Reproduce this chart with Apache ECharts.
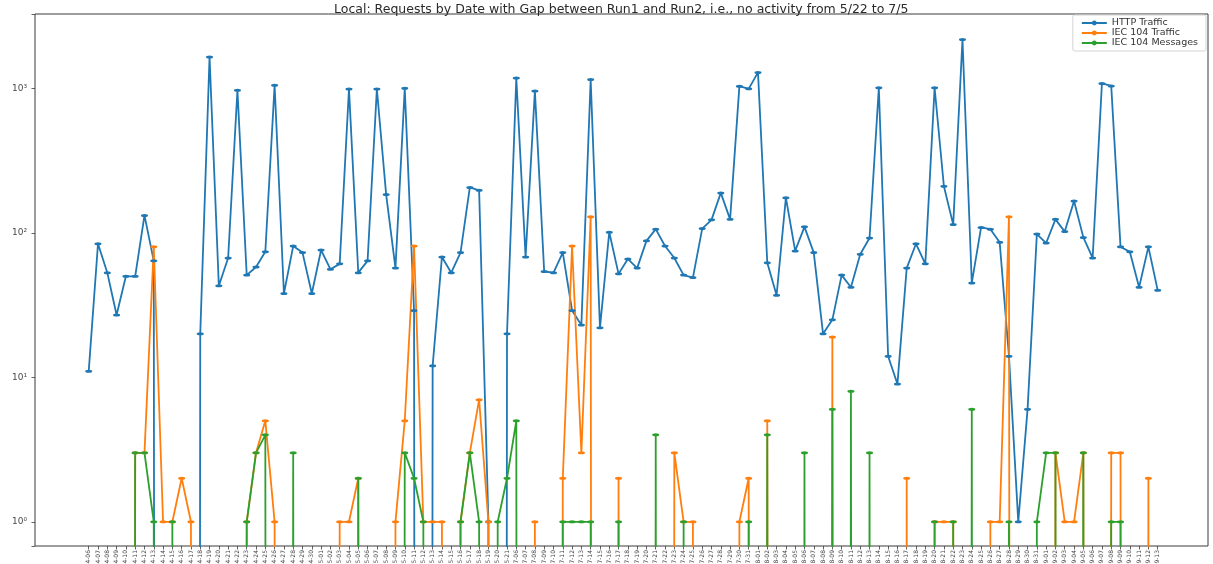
<!DOCTYPE html>
<html>
<head>
<meta charset="utf-8">
<script src="https://cdn.jsdelivr.net/npm/echarts@6/dist/echarts.min.js"></script>
<style>
  html, body { margin: 0; padding: 0; background: #ffffff; }
  #chart { width: 1213px; height: 564px; }
</style>
</head>
<body>
<div id="chart"></div>
<script>
// Dates of the two runs (nothing was recorded between 5/22 and 7/5)
const run1Dates = [
  '2024-04-06','2024-04-07','2024-04-08','2024-04-09','2024-04-10','2024-04-11','2024-04-12','2024-04-13','2024-04-14','2024-04-15',
  '2024-04-16','2024-04-17','2024-04-18','2024-04-19','2024-04-20','2024-04-21','2024-04-22','2024-04-23','2024-04-24','2024-04-25',
  '2024-04-26','2024-04-27','2024-04-28','2024-04-29','2024-04-30','2024-05-01','2024-05-02','2024-05-03','2024-05-04','2024-05-05',
  '2024-05-06','2024-05-07','2024-05-08','2024-05-09','2024-05-10','2024-05-11','2024-05-12','2024-05-13','2024-05-14','2024-05-15',
  '2024-05-16','2024-05-17','2024-05-18','2024-05-19','2024-05-20','2024-05-21'
];
const run2Dates = [
  '2024-07-06','2024-07-07','2024-07-08','2024-07-09','2024-07-10','2024-07-11','2024-07-12','2024-07-13','2024-07-14','2024-07-15',
  '2024-07-16','2024-07-17','2024-07-18','2024-07-19','2024-07-20','2024-07-21','2024-07-22','2024-07-23','2024-07-24','2024-07-25',
  '2024-07-26','2024-07-27','2024-07-28','2024-07-29','2024-07-30','2024-07-31','2024-08-01','2024-08-02','2024-08-03','2024-08-04',
  '2024-08-05','2024-08-06','2024-08-07','2024-08-08','2024-08-09','2024-08-10','2024-08-11','2024-08-12','2024-08-13','2024-08-14',
  '2024-08-15','2024-08-16','2024-08-17','2024-08-18','2024-08-19','2024-08-20','2024-08-21','2024-08-22','2024-08-23','2024-08-24',
  '2024-08-25','2024-08-26','2024-08-27','2024-08-28','2024-08-29','2024-08-30','2024-08-31','2024-09-01','2024-09-02','2024-09-03',
  '2024-09-04','2024-09-05','2024-09-06','2024-09-07','2024-09-08','2024-09-09','2024-09-10','2024-09-11','2024-09-12','2024-09-13'
];
const dates = run1Dates.concat(run2Dates);

// Daily request counts
const httpTraffic = [
  11, 84, 53, 27, 50, 50, 132, 64, 0, 0,
  0, 0, 20, 1650, 43, 67, 970, 51, 58, 74,
  1050, 38, 81, 73, 38, 76, 56, 61, 990, 53,
  64, 990, 184, 57, 1000, 29, 0, 12, 68, 53,
  73, 206, 197, 1, 0, 20, 1180, 68, 960, 54,
  53, 73, 29, 23, 1150, 22, 101, 52, 66, 57,
  88, 106, 81, 67, 51, 49, 107, 123, 189, 124,
  1036, 992, 1289, 62, 37, 175, 75, 110, 73, 20,
  25, 51, 42, 71, 92, 1009, 14, 9, 57, 84,
  61, 1009, 210, 114, 2180, 45, 109, 106, 86, 14,
  1, 6, 98, 85, 124, 102, 166, 93, 67, 1082,
  1040, 80, 74, 42, 80, 40
];
const iec104Traffic = [
  0, 0, 0, 0, 0, 3, 3, 80, 1, 1,
  2, 1, 0, 0, 0, 0, 0, 1, 3, 5,
  1, 0, 0, 0, 0, 0, 0, 1, 1, 2,
  0, 0, 0, 1, 5, 81, 1, 1, 1, 0,
  1, 3, 7, 1, 0, 0, 0, 0, 1, 0,
  0, 2, 81, 3, 129, 0, 0, 2, 0, 0,
  0, 0, 0, 3, 1, 1, 0, 0, 0, 0,
  1, 2, 0, 5, 0, 0, 0, 0, 0, 0,
  19, 0, 0, 0, 0, 0, 0, 0, 2, 0,
  0, 1, 1, 1, 0, 0, 0, 1, 1, 129,
  0, 0, 0, 0, 3, 1, 1, 3, 0, 0,
  3, 3, 0, 0, 2, 0
];
const iec104Messages = [
  0, 0, 0, 0, 0, 3, 3, 1, 0, 1,
  0, 0, 0, 0, 0, 0, 0, 1, 3, 4,
  0, 0, 3, 0, 0, 0, 0, 0, 0, 2,
  0, 0, 0, 0, 3, 2, 1, 0, 0, 0,
  1, 3, 1, 0, 1, 2, 5, 0, 0, 0,
  0, 1, 1, 1, 1, 0, 0, 1, 0, 0,
  0, 4, 0, 0, 1, 0, 0, 0, 0, 0,
  0, 1, 0, 4, 0, 0, 0, 3, 0, 0,
  6, 0, 8, 0, 3, 0, 0, 0, 0, 0,
  0, 1, 0, 1, 0, 6, 0, 0, 0, 1,
  0, 0, 1, 3, 3, 0, 0, 3, 0, 0,
  1, 1, 0, 0, 0, 0
];

const seriesNames = ['HTTP Traffic', 'IEC 104 Traffic', 'IEC 104 Messages'];
const seriesColors = ['#1f77b4', '#ff7f0e', '#2ca02c'];
const decadeLabels = { 0: '10\u2070', 1: '10\u00b9', 2: '10\u00b2', 3: '10\u00b3' };

// A zero count has no place on a log axis: send it far below the visible
// range so the line falls straight off the bottom edge and gets clipped.
const LOG_FLOOR = 1e-60;
const onLog = arr => arr.map(v => (v > 0 ? v : LOG_FLOOR));

const FONT = "'DejaVu Sans', 'Liberation Sans', sans-serif";

function lineSeries(name, values, color) {
  return {
    name: name,
    type: 'line',
    xAxisIndex: 0,
    yAxisIndex: 0,
    data: onLog(values),
    clip: true,
    showSymbol: true,
    showAllSymbol: true,
    symbol: 'circle',
    symbolSize: [7, 3],
    itemStyle: { color: color },
    lineStyle: { color: color, width: 1.8 },
    emphasis: { disabled: true },
    animation: false
  };
}

const chart = echarts.init(document.getElementById('chart'), null, { renderer: 'canvas' });
chart.setOption({
  backgroundColor: '#ffffff',
  animation: false,
  textStyle: { fontFamily: FONT },
  // title is centred over the plot frame rather than the page
  title: {
    text: 'Local: Requests by Date with Gap between Run1 and Run2, i.e., no activity from 5/22 to 7/5',
    left: 334,
    top: 1,
    padding: [2, 0, 2, 0],
    textStyle: { fontSize: 12.5, fontWeight: 'normal', color: '#2a2a2a', fontFamily: FONT }
  },
  legend: {
    data: seriesNames,
    orient: 'vertical',
    right: 7,
    top: 15,
    itemWidth: 25,
    itemHeight: 6,
    itemGap: 0,
    padding: [3, 8, 3, 8],
    borderColor: '#d4d4d4',
    borderWidth: 1,
    borderRadius: 2,
    backgroundColor: '#ffffff',
    textStyle: { fontSize: 9.5, lineHeight: 7.4, color: '#333', fontFamily: FONT }
  },
  grid: [
    { left: 88.7, right: 55.3, top: 14, bottom: 18, containLabel: false, outerBoundsMode: 'none' },
    { left: 35, right: 5, top: 14, bottom: 18, containLabel: false, outerBoundsMode: 'none',
      show: true, borderColor: '#3a3a3a', borderWidth: 1, backgroundColor: 'transparent' }
  ],
  xAxis: [
    {
      type: 'category',
      gridIndex: 0,
      data: dates,
      boundaryGap: false,
      axisLine: { show: false },
      axisTick: { show: true, interval: 0, length: 3.5, lineStyle: { color: '#3a3a3a', width: 0.8 } },
      axisLabel: { interval: 0, rotate: 90, fontSize: 6, color: '#444', margin: 4, fontFamily: FONT },
      splitLine: { show: false }
    },
    { type: 'value', gridIndex: 1, show: false }
  ],
  yAxis: [
    {
      type: 'log',
      gridIndex: 0,
      logBase: 10,
      min: 0.68,
      max: 3270,
      offset: 53.7,
      axisLine: { show: false },
      axisTick: { show: true, length: 3.5, lineStyle: { color: '#3a3a3a', width: 0.8 } },
      axisLabel: {
        fontSize: 9,
        color: '#4a4a4a',
        margin: 8,
        fontFamily: FONT,
        formatter: function (v) {
          const e = Math.log10(v);
          const r = Math.round(e);
          return Math.abs(e - r) < 1e-6 && decadeLabels[r] !== undefined ? decadeLabels[r] : '';
        }
      },
      splitLine: { show: false }
    },
    { type: 'value', gridIndex: 1, show: false }
  ],
  series: [
    lineSeries(seriesNames[0], httpTraffic, seriesColors[0]),
    lineSeries(seriesNames[1], iec104Traffic, seriesColors[1]),
    lineSeries(seriesNames[2], iec104Messages, seriesColors[2])
  ]
});
</script>
</body>
</html>
